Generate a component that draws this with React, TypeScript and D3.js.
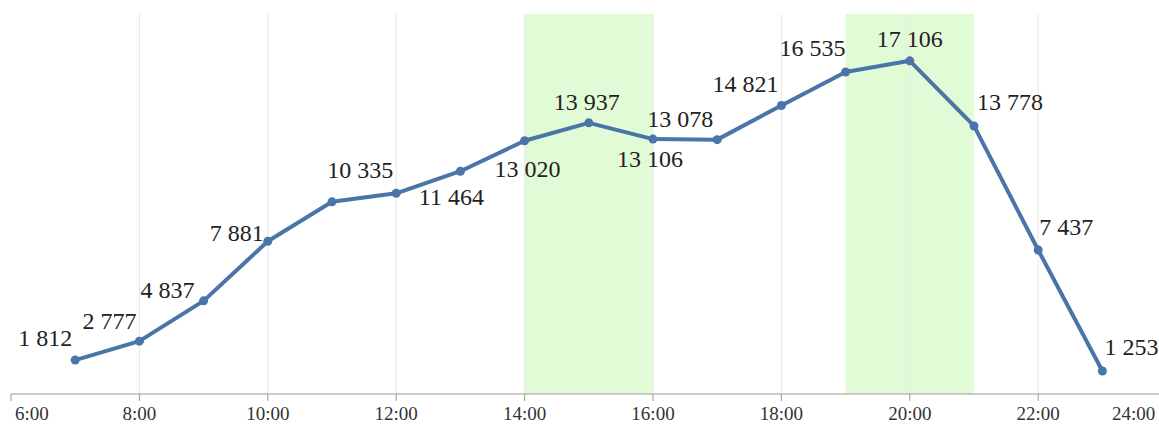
import React from 'react';
import * as d3 from 'd3';

// hourly values (hour of day -> count)
const hours = [7, 8, 9, 10, 11, 12, 13, 14, 15, 16, 17, 18, 19, 20, 21, 22, 23];
const values = [1812, 2777, 4837, 7881, 9900, 10335, 11464, 13020, 13937, 13106, 13078, 14821, 16535, 17106, 13778, 7437, 1253];
const showLabel = [true, true, true, true, false, true, true, true, true, true, true, true, true, true, true, true, true];
const xTicks = [6, 8, 10, 12, 14, 16, 18, 20, 22, 24];
const bands: [number, number][] = [[14, 16], [19, 21]];

// label offsets relative to each point (style only)
const labelOffsets: [number, number][] = [
  [-30, -14], [-30, -12], [-36, -3], [-31, 0], [0, 0], [-36, -15], [-9, 34], [3, 36],
  [-2, -13], [-3, 28], [-37, -13], [-36, -14], [-33, -16], [0, -14], [36, -16], [28, -15], [29, -16],
];

const W = 1159;
const H = 425;
const fmt = (v: number) => d3.format(',')(v).replace(/,/g, ' ');
const font = "'Liberation Serif', 'Times New Roman', Times, serif";

const App: React.FC = () => {
  const x = d3.scaleLinear().domain([6, 24]).range([11, 1166.6]);
  const y = d3.scaleLinear().domain([0, 19500]).range([395.5, 14]);
  const line = d3.line<number>()
    .x((_, i) => x(hours[i]))
    .y(d => y(d));
  const axisY = 394;

  // keep the end labels inside the picture
  const tickLabelX = (t: number) => (t === 6 ? 15 : t === 24 ? 1112 : x(t));
  const tickAnchor = (t: number) => (t === 6 || t === 24 ? 'start' : 'middle');

  return (
    <svg width={W} height={H} style={{ position: 'fixed', left: 0, top: 0, background: '#fff', fontFamily: font }}>
      {bands.map(([a, b], i) => (
        <rect key={i} x={x(a)} y={14} width={x(b) - x(a)} height={axisY - 14} fill="#e2fbd7" />
      ))}
      {xTicks.slice(1).map(t => (
        <line key={t} x1={x(t)} x2={x(t)} y1={14} y2={axisY} stroke="#e8e8e8" strokeWidth={1} />
      ))}
      <line x1={x(6)} x2={W} y1={axisY} y2={axisY} stroke="#9a9a9a" strokeWidth={1} />
      {xTicks.map(t => (
        <g key={t}>
          <line x1={x(t)} x2={x(t)} y1={axisY} y2={axisY + 7} stroke="#9a9a9a" strokeWidth={1} />
          <text x={tickLabelX(t)} y={420} textAnchor={tickAnchor(t)} style={{ fontFamily: font, fontSize: 19 }} fill="#333">
            {`${t}:00`}
          </text>
        </g>
      ))}
      <path d={line(values) || ''} fill="none" stroke="#4a75a8" strokeWidth={4} strokeLinejoin="round" />
      {values.map((v, i) => (
        <circle key={i} cx={x(hours[i])} cy={y(v)} r={4.5} fill="#4a75a8" />
      ))}
      {values.map((v, i) =>
        showLabel[i] ? (
          <text
            key={i}
            x={x(hours[i]) + labelOffsets[i][0]}
            y={y(v) + labelOffsets[i][1]}
            textAnchor="middle"
            style={{ fontFamily: font, fontSize: 24 }}
            fill="#222"
          >
            {fmt(v)}
          </text>
        ) : null
      )}
    </svg>
  );
};

export default App;
